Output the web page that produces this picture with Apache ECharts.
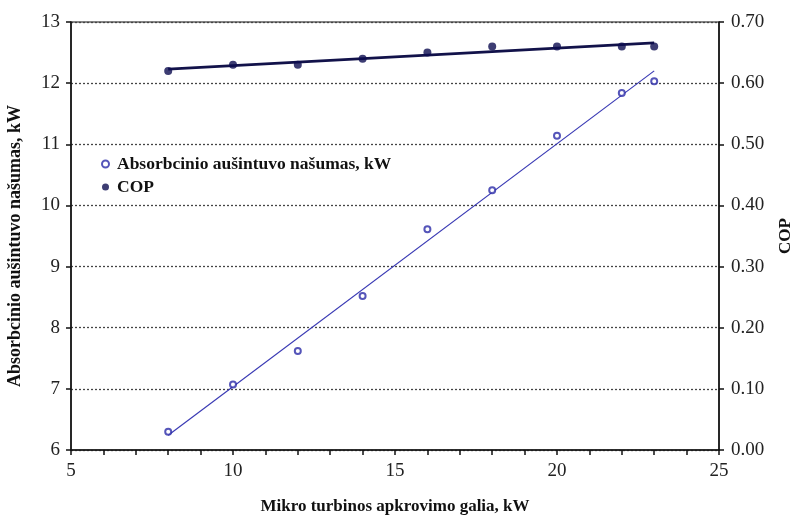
<!DOCTYPE html>
<html>
<head>
<meta charset="utf-8">
<script src="https://cdn.jsdelivr.net/npm/echarts@6/dist/echarts.min.js"></script>
<style>
  html, body { margin: 0; padding: 0; background: #fff; }
  #chart { width: 794px; height: 518px; }
</style>
</head>
<body>
<div id="chart"></div>
<script>
// Turbine load, kW
const loadKw = [8, 10, 12, 14, 16, 18, 20, 22, 23];
// Absorption chiller capacity, kW (left axis)
const chillerKw = [6.30, 7.07, 7.62, 8.52, 9.61, 10.25, 11.14, 11.84, 12.03];
// Coefficient of performance (right axis)
const cop = [0.62, 0.63, 0.63, 0.64, 0.65, 0.66, 0.66, 0.66, 0.66];

const leftTicks = [6, 13, 1];
const rightTicks = [0, 0.7, 0.1];
const xTicks = [5, 25, 5];

// Least-squares linear trendline over the first and last x
function trend(xs, ys) {
  const n = xs.length;
  const mx = xs.reduce((a, b) => a + b, 0) / n;
  const my = ys.reduce((a, b) => a + b, 0) / n;
  let sxy = 0, sxx = 0;
  for (let i = 0; i < n; i++) {
    sxy += (xs[i] - mx) * (ys[i] - my);
    sxx += (xs[i] - mx) * (xs[i] - mx);
  }
  const k = sxy / sxx, b = my - k * mx;
  const x0 = Math.min(...xs), x1 = Math.max(...xs);
  return [[x0, k * x0 + b], [x1, k * x1 + b]];
}

const serif = 'Liberation Serif, Times New Roman, serif';
const chart = echarts.init(document.getElementById('chart'), null, { renderer: 'canvas' });

chart.setOption({
  animation: false,
  backgroundColor: '#fff',
  grid: {
    left: 71, right: 75, top: 22, bottom: 68,
    containLabel: false, outerBoundsMode: 'none',
    show: true, borderColor: '#111', borderWidth: 1.2, backgroundColor: 'transparent'
  },
  legend: {
    orient: 'vertical',
    left: 96, top: 150,
    itemGap: 5,
    itemWidth: 7, itemHeight: 7,
    textStyle: { fontFamily: serif, fontSize: 17.5, fontWeight: 'bold', color: '#111', padding: [0, 0, 0, 3] },
    data: ['Absorbcinio aušintuvo našumas, kW', 'COP']
  },
  xAxis: {
    type: 'value',
    min: xTicks[0], max: xTicks[1], interval: xTicks[2],
    name: 'Mikro turbinos apkrovimo galia, kW',
    nameLocation: 'middle', nameGap: 48,
    nameTextStyle: { fontFamily: serif, fontSize: 17, fontWeight: 'bold', color: '#111' },
    axisLine: { lineStyle: { color: '#111', width: 1.5 } },
    axisTick: { length: 5, lineStyle: { color: '#111', width: 1.5 } },
    minorTick: { show: true, splitNumber: 5, length: 5, lineStyle: { color: '#111', width: 1.5 } },
    axisLabel: { fontFamily: serif, fontSize: 19, color: '#222', margin: 12 },
    splitLine: { show: false }
  },
  yAxis: [{
    type: 'value',
    min: leftTicks[0], max: leftTicks[1], interval: leftTicks[2],
    name: 'Absorbcinio aušintuvo našumas, kW',
    nameLocation: 'middle', nameGap: 47, nameRotate: 90,
    nameTextStyle: { fontFamily: serif, fontSize: 18, fontWeight: 'bold', color: '#111', padding: [0, 20, 0, 0] },
    axisLine: { show: true, lineStyle: { color: '#111', width: 1.5 } },
    axisTick: { show: true, length: 5, lineStyle: { color: '#111', width: 1.5 } },
    axisLabel: { fontFamily: serif, fontSize: 19, color: '#222', margin: 11 },
    splitLine: { show: true, lineStyle: { color: '#444', type: [2, 2], width: 1.3 } }
  }, {
    type: 'value',
    position: 'right',
    min: rightTicks[0], max: rightTicks[1], interval: rightTicks[2],
    name: 'COP',
    nameLocation: 'middle', nameGap: 58, nameRotate: 90,
    nameTextStyle: { fontFamily: serif, fontSize: 17, fontWeight: 'bold', color: '#111' },
    axisLine: { show: true, lineStyle: { color: '#111', width: 1.5 } },
    axisTick: { show: true, length: 5, lineStyle: { color: '#111', width: 1.5 } },
    axisLabel: { fontFamily: serif, fontSize: 19, color: '#222', margin: 12, formatter: v => v.toFixed(2) },
    splitLine: { show: false }
  }],
  series: [{
    name: 'Absorbcinio aušintuvo našumas, kW',
    type: 'scatter',
    yAxisIndex: 0,
    symbol: 'emptyCircle',
    symbolSize: 6,
    itemStyle: { color: '#2b2ba8', borderColor: '#2b2ba8', borderWidth: 1.2 },
    data: loadKw.map((x, i) => [x, chillerKw[i]]),
    z: 3
  }, {
    name: 'chillerTrend',
    type: 'line',
    yAxisIndex: 0,
    showSymbol: false,
    lineStyle: { color: '#3a3ab4', width: 1.2 },
    data: trend(loadKw, chillerKw),
    z: 2
  }, {
    name: 'COP',
    type: 'scatter',
    yAxisIndex: 1,
    symbol: 'circle',
    symbolSize: 8,
    itemStyle: { color: '#0c0c50' },
    data: loadKw.map((x, i) => [x, cop[i]]),
    z: 3
  }, {
    name: 'copTrend',
    type: 'line',
    yAxisIndex: 1,
    showSymbol: false,
    lineStyle: { color: '#12124a', width: 2.8 },
    data: trend(loadKw, cop),
    z: 2
  }]
});
</script>
</body>
</html>
